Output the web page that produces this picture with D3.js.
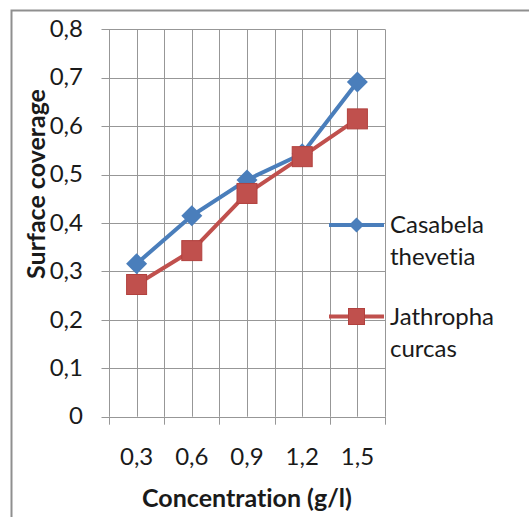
<!DOCTYPE html>
<html>
<head>
<meta charset="utf-8">
<script src="https://cdn.jsdelivr.net/npm/d3@7"></script>
<style>
  html, body { margin: 0; padding: 0; background: #fff; }
  svg { display: block; }
  text { font-family: Lato, "Open Sans", sans-serif; fill: #1a1a1a; font-variant-ligatures: none; font-feature-settings: "liga" 0; }
</style>
</head>
<body>
<svg id="chart" width="529" height="517"></svg>
<script>
// Surface coverage against inhibitor concentration
const categories = ["0,3", "0,6", "0,9", "1,2", "1,5"];
const casabela = [0.316, 0.415, 0.489, 0.543, 0.691];
const jathropha = [0.273, 0.343, 0.461, 0.537, 0.615];
const yTicks = [0, 0.1, 0.2, 0.3, 0.4, 0.5, 0.6, 0.7, 0.8];
const yTickLabels = ["0", "0,1", "0,2", "0,3", "0,4", "0,5", "0,6", "0,7", "0,8"];

const series = [
  { name: ["Casabela", "thevetia"], values: casabela, color: "#4a7ebb", marker: "diamond" },
  { name: ["Jathropha", "curcas"], values: jathropha, color: "#c0504d", marker: "square" }
];

const svg = d3.select("#chart");
const W = 529, H = 517;
const plot = { left: 109, right: 385, top: 29.3, bottom: 416.7 };
const gridColor = "#979797";
const labelSize = 24, titleSize = 25;

svg.append("rect").attr("width", W).attr("height", H).attr("fill", "#fff");

// chart-area frame (runs off the right and bottom edges)
svg.append("rect")
  .attr("x", 11.5).attr("y", 10.5)
  .attr("width", 700).attr("height", 700)
  .attr("fill", "none").attr("stroke", "#8f8f8f").attr("stroke-width", 2);

const x = d3.scaleBand().domain(categories).range([plot.left, plot.right]).padding(0);
const y = d3.scaleLinear().domain([0, 0.8]).range([plot.bottom, plot.top]);

// horizontal gridlines (with a short tick stub to the left of the axis)
svg.append("g").selectAll("line").data(yTicks).join("line")
  .attr("x1", plot.left - 7.5).attr("x2", plot.right)
  .attr("y1", d => Math.round(y(d)) + 0.5).attr("y2", d => Math.round(y(d)) + 0.5)
  .attr("stroke", gridColor).attr("stroke-width", 1);

// vertical gridlines: category boundaries and category centres
const bounds = categories.map(c => x(c)).concat([plot.right]);
const centers = categories.map(c => x(c) + x.bandwidth() / 2);
svg.append("g").selectAll("line").data(bounds.concat(centers)).join("line")
  .attr("x1", d => Math.round(d) + 0.5).attr("x2", d => Math.round(d) + 0.5)
  .attr("y1", plot.top).attr("y2", plot.bottom)
  .attr("stroke", gridColor).attr("stroke-width", 1);

// y axis
const yAxis = d3.axisLeft(y).tickValues(yTicks)
  .tickFormat((d, i) => yTickLabels[i]).tickSize(0).tickPadding(26);
const gy = svg.append("g").attr("transform", `translate(${plot.left},0)`).call(yAxis);
gy.select(".domain").remove();
gy.selectAll("text").attr("font-size", labelSize).attr("dy", "0.3em").style("font-family", null);

// x axis: tick marks at category boundaries, labels centred on categories
svg.append("g").selectAll("line").data(bounds).join("line")
  .attr("x1", d => Math.round(d) + 0.5).attr("x2", d => Math.round(d) + 0.5)
  .attr("y1", plot.bottom).attr("y2", plot.bottom + 8)
  .attr("stroke", gridColor).attr("stroke-width", 1);
const xAxis = d3.axisBottom(x).tickSize(0).tickPadding(0);
const gx = svg.append("g").attr("transform", `translate(0,${plot.bottom})`).call(xAxis);
gx.select(".domain").remove();
gx.selectAll("text").attr("font-size", labelSize).attr("y", 39.5).attr("dy", "0.35em").style("font-family", null);

// axis titles
svg.append("text")
  .attr("x", 247).attr("y", 498).attr("dy", "0.35em")
  .attr("text-anchor", "middle").attr("font-size", titleSize).attr("font-weight", "bold")
  .text("Concentration (g/l)");
svg.append("text")
  .attr("transform", `translate(36,${(88 + 280) / 2}) rotate(-90)`)
  .attr("dy", "0.35em")
  .attr("text-anchor", "middle").attr("font-size", titleSize).attr("font-weight", "bold")
  .text("Surface coverage");

// markers
function drawMarker(g, type, cx, cy, size, color) {
  if (type === "diamond") {
    g.append("path")
      .attr("d", d3.symbol(d3.symbolSquare, size * size / 2)())
      .attr("transform", `translate(${cx},${cy}) rotate(45)`)
      .attr("fill", color);
  } else {
    g.append("rect")
      .attr("x", cx - size / 2).attr("y", cy - size / 2)
      .attr("width", size).attr("height", size)
      .attr("fill", color).attr("stroke", "#b2413e").attr("stroke-width", 1);
  }
}

const line = d3.line()
  .x((d, i) => x(categories[i]) + x.bandwidth() / 2)
  .y(d => y(d));

series.forEach(s => {
  const g = svg.append("g");
  g.append("path").datum(s.values)
    .attr("d", line).attr("fill", "none")
    .attr("stroke", s.color).attr("stroke-width", 4).attr("stroke-linejoin", "round");
  s.values.forEach((v, i) => {
    drawMarker(g, s.marker, x(categories[i]) + x.bandwidth() / 2, y(v), s.marker === "diamond" ? 21 : 20, s.color);
  });
});

// legend
const legendY = [225, 316.5];
series.forEach((s, k) => {
  const g = svg.append("g");
  g.append("line")
    .attr("x1", 329).attr("x2", 384).attr("y1", legendY[k]).attr("y2", legendY[k])
    .attr("stroke", s.color).attr("stroke-width", 4);
  drawMarker(g, s.marker, 356.5, legendY[k], s.marker === "diamond" ? 15 : 16, s.color);
  s.name.forEach((t, j) => {
    g.append("text")
      .attr("x", 390).attr("y", legendY[k] + j * 32).attr("dy", "0.35em")
      .attr("font-size", labelSize).text(t);
  });
});
</script>
</body>
</html>
